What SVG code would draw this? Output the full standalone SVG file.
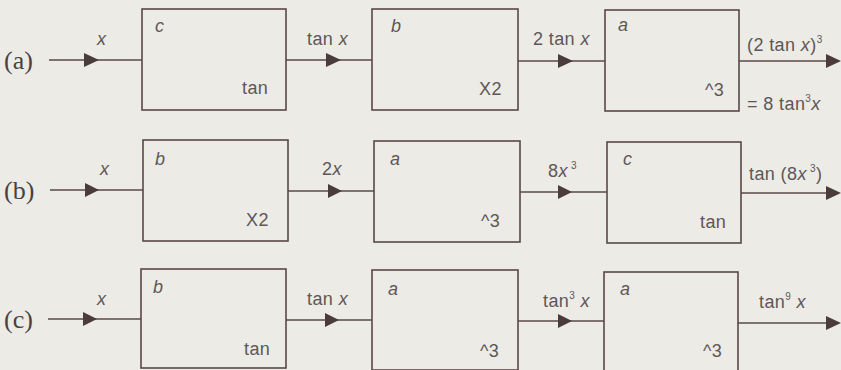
<svg xmlns="http://www.w3.org/2000/svg" width="841" height="370" viewBox="0 0 841 370">
  <defs>
    <style>
      .box { fill: none; stroke: #5a4848; stroke-width: 1.6; }
      .wire { fill: none; stroke: #5a4848; stroke-width: 1.6; }
      .lbl { font-family: "Liberation Sans", Arial, sans-serif; font-size: 18px; fill: #5e5757; letter-spacing: 0.4px; }
      .it { font-style: italic; }
      .sup { font-size: 10px; }
      .row { font-family: "Liberation Serif", "Times New Roman", serif; font-size: 26px; fill: #4a4242; }
      .arr { fill: #4a3c3c; }
    </style>
  </defs>
  <rect width="841" height="370" fill="#ecebe6"/>

  <!-- row labels -->
  <text class="row" x="4" y="69">(a)</text>
  <text class="row" x="4" y="199">(b)</text>
  <text class="row" x="4" y="328">(c)</text>

  <!-- connectors -->
  <g id="connectors">
    <!-- row (a) -->
    <line class="wire" x1="49" y1="60" x2="142" y2="60"/>
    <path class="arr" d="M84,53 L99,60 L84,67 Z"/>
    <line class="wire" x1="286" y1="60" x2="372" y2="60"/>
    <path class="arr" d="M326,53 L341,60 L326,67 Z"/>
    <line class="wire" x1="518" y1="61" x2="605" y2="61"/>
    <path class="arr" d="M558,54 L573,61 L558,68 Z"/>
    <line class="wire" x1="739" y1="61" x2="828" y2="61"/>
    <path class="arr" d="M826,54 L841,61 L826,68 Z"/>
    <!-- row (b) -->
    <line class="wire" x1="50" y1="190" x2="143" y2="190"/>
    <path class="arr" d="M85,183 L99,190 L85,197 Z"/>
    <line class="wire" x1="288" y1="191" x2="374" y2="191"/>
    <path class="arr" d="M328,184 L342,191 L328,198 Z"/>
    <line class="wire" x1="520" y1="192" x2="607" y2="192"/>
    <path class="arr" d="M558,185 L572,192 L558,199 Z"/>
    <line class="wire" x1="741" y1="193" x2="828" y2="193"/>
    <path class="arr" d="M826,186 L841,193 L826,200 Z"/>
    <!-- row (c) -->
    <line class="wire" x1="48" y1="319" x2="141" y2="319"/>
    <path class="arr" d="M83,312 L97,319 L83,326 Z"/>
    <line class="wire" x1="286" y1="320" x2="372" y2="320"/>
    <path class="arr" d="M325,313 L339,320 L325,327 Z"/>
    <line class="wire" x1="518" y1="321" x2="604" y2="321"/>
    <path class="arr" d="M558,314 L572,321 L558,328 Z"/>
    <line class="wire" x1="738" y1="323" x2="828" y2="323"/>
    <path class="arr" d="M826,316 L841,323 L826,330 Z"/>
  </g>

  <!-- connector labels -->
  <g id="wire-labels">
    <text class="lbl it" x="97" y="45">x</text>
    <text class="lbl" x="307" y="45">tan <tspan class="it">x</tspan></text>
    <text class="lbl" x="533" y="45">2 tan <tspan class="it">x</tspan></text>
    <text class="lbl" x="747" y="51">(2 tan <tspan class="it">x</tspan>)<tspan class="sup" dy="-8">3</tspan></text>
    <text class="lbl" x="747" y="110">= 8 tan<tspan class="sup" dy="-8">3</tspan><tspan class="it" dy="8">x</tspan></text>

    <text class="lbl it" x="100" y="175">x</text>
    <text class="lbl" x="322" y="175">2<tspan class="it">x</tspan></text>
    <text class="lbl" x="548" y="177">8<tspan class="it">x</tspan><tspan class="sup" dy="-8"> 3</tspan></text>
    <text class="lbl" x="749" y="180">tan (8<tspan class="it">x</tspan><tspan class="sup" dy="-8"> 3</tspan><tspan dy="8">)</tspan></text>

    <text class="lbl it" x="97" y="305">x</text>
    <text class="lbl" x="307" y="305">tan <tspan class="it">x</tspan></text>
    <text class="lbl" x="543" y="307">tan<tspan class="sup" dy="-8">3</tspan><tspan class="it" dy="8"> x</tspan></text>
    <text class="lbl" x="759" y="308">tan<tspan class="sup" dy="-8">9</tspan><tspan class="it" dy="8"> x</tspan></text>
  </g>

  <!-- row (a) -->
  <g id="a1">
    <rect class="box" x="142" y="9" width="144" height="101"/>
    <text class="lbl it" x="155" y="32">c</text>
    <text class="lbl" x="242" y="94">tan</text>
  </g>
  <g id="a2">
    <rect class="box" x="372" y="9" width="146" height="101"/>
    <text class="lbl it" x="391" y="32">b</text>
    <text class="lbl" x="479" y="95">X2</text>
  </g>
  <g id="a3">
    <rect class="box" x="605" y="10" width="134" height="101"/>
    <text class="lbl it" x="618" y="31">a</text>
    <text class="lbl" x="705" y="96">^3</text>
  </g>

  <!-- row (b) -->
  <g id="b1">
    <rect class="box" x="143" y="140" width="145" height="101"/>
    <text class="lbl it" x="155" y="165">b</text>
    <text class="lbl" x="246" y="226">X2</text>
  </g>
  <g id="b2">
    <rect class="box" x="374" y="141" width="146" height="101"/>
    <text class="lbl it" x="390" y="165">a</text>
    <text class="lbl" x="481" y="227">^3</text>
  </g>
  <g id="b3">
    <rect class="box" x="607" y="142" width="134" height="101"/>
    <text class="lbl it" x="623" y="165">c</text>
    <text class="lbl" x="700" y="228">tan</text>
  </g>

  <!-- row (c) -->
  <g id="c1">
    <rect class="box" x="141" y="269" width="145" height="99"/>
    <text class="lbl it" x="153" y="293">b</text>
    <text class="lbl" x="244" y="355">tan</text>
  </g>
  <g id="c2">
    <rect class="box" x="372" y="270" width="146" height="100"/>
    <text class="lbl it" x="388" y="295">a</text>
    <text class="lbl" x="480" y="357">^3</text>
  </g>
  <g id="c3">
    <rect class="box" x="604" y="272" width="134" height="100"/>
    <text class="lbl it" x="620" y="295">a</text>
    <text class="lbl" x="703" y="357">^3</text>
  </g>
</svg>
